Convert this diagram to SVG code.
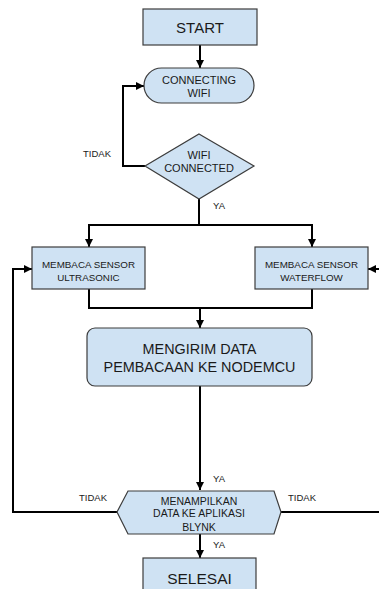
<svg xmlns="http://www.w3.org/2000/svg" width="379" height="589" viewBox="0 0 379 589">
  <defs>
    <marker id="arrow" viewBox="0 0 10 10" refX="10" refY="5" markerWidth="8" markerHeight="9" markerUnits="userSpaceOnUse" orient="auto">
      <path d="M0,0 L10,5 L0,10 z" fill="#000"/>
    </marker>
    <style>
      .node { fill: #cfe2f3; stroke: #3c3c3c; stroke-width: 1.2; }
      .edge { fill: none; stroke: #000; stroke-width: 2; }
      .arr { marker-end: url(#arrow); }
      text { font-family: "Liberation Sans", Arial, sans-serif; fill: #1a1a1a; text-anchor: middle; }
      .lbl { font-size: 9.5px; }
    </style>
  </defs>
  <rect width="379" height="589" fill="#fff"/>

  <g id="connectors">
    <path class="edge arr" d="M200,45 V68"/>
    <path class="edge arr" d="M145,166 H123 V86 H144"/>
    <path class="edge arr" d="M199,199 V225 H89 V247"/>
    <path class="edge arr" d="M199,225 H312 V247"/>
    <path class="edge" d="M312,289 V308 H200"/>
    <path class="edge arr" d="M89,289 V308 H200 V328"/>
    <path class="edge arr" d="M200,386 V490"/>
    <path class="edge arr" d="M200,534 V558"/>
    <path class="edge arr" d="M117,512 H13 V269 H32"/>
    <path class="edge" d="M281,512 H379"/>
    <path class="edge arr" d="M379,269 H368"/>
    <text class="lbl" x="97" y="157">TIDAK</text>
    <text class="lbl" x="219" y="209">YA</text>
    <text class="lbl" x="219" y="482">YA</text>
    <text class="lbl" x="93" y="501">TIDAK</text>
    <text class="lbl" x="302" y="501">TIDAK</text>
    <text class="lbl" x="219" y="548">YA</text>
  </g>

  <g id="start">
    <rect class="node" x="143" y="9" width="114" height="36"/>
    <text x="200" y="33" font-size="15">START</text>
  </g>

  <g id="connecting-wifi">
    <rect class="node" x="144" y="68" width="110" height="35" rx="17.5"/>
    <text x="199" y="84" font-size="11">CONNECTING</text>
    <text x="199" y="97" font-size="11">WIFI</text>
  </g>

  <g id="wifi-connected">
    <polygon class="node" points="199,134 254,166 199,199 145,166"/>
    <text x="199" y="159" font-size="11">WIFI</text>
    <text x="199" y="172" font-size="11">CONNECTED</text>
  </g>

  <g id="sensor-ultrasonic">
    <rect class="node" x="32" y="247" width="113" height="42"/>
    <text x="88.5" y="267.5" font-size="9.8">MEMBACA SENSOR</text>
    <text x="88.5" y="280.5" font-size="9.8">ULTRASONIC</text>
  </g>

  <g id="sensor-waterflow">
    <rect class="node" x="255" y="247" width="113" height="42"/>
    <text x="311.5" y="267.5" font-size="9.8">MEMBACA SENSOR</text>
    <text x="311.5" y="280.5" font-size="9.8">WATERFLOW</text>
  </g>

  <g id="kirim-data">
    <rect class="node" x="87" y="328" width="225" height="58" rx="8"/>
    <text x="199.5" y="354" font-size="14.4">MENGIRIM DATA</text>
    <text x="199.5" y="372" font-size="14.4">PEMBACAAN KE NODEMCU</text>
  </g>

  <g id="tampilkan-blynk">
    <polygon class="node" points="128,491 274,491 281,512 274,534 128,534 117,512"/>
    <text x="199" y="504.5" font-size="10.5">MENAMPILKAN</text>
    <text x="199" y="517" font-size="10.5">DATA KE APLIKASI</text>
    <text x="199" y="530.5" font-size="10.5">BLYNK</text>
  </g>

  <g id="selesai">
    <rect class="node" x="143" y="558" width="113" height="40"/>
    <text x="199.5" y="583.5" font-size="15.5">SELESAI</text>
  </g>
</svg>
